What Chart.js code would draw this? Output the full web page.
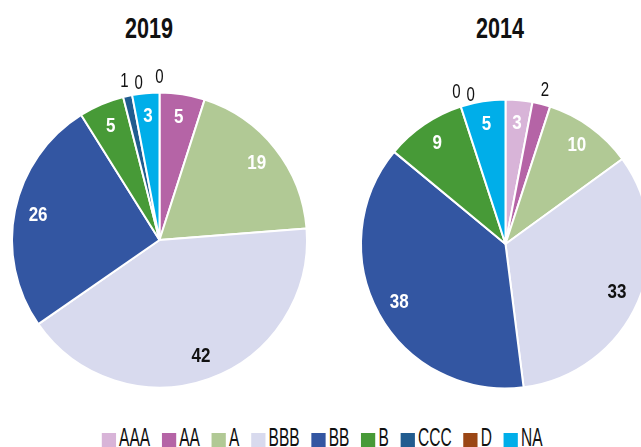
<!DOCTYPE html>
<html>
<head>
<meta charset="utf-8">
<script src="https://cdn.jsdelivr.net/npm/chart.js@4/dist/chart.umd.min.js"></script>
<style>
  html, body { margin: 0; padding: 0; width: 641px; height: 447px; overflow: hidden; background: #fff; }
  body { position: relative; font-family: "Liberation Sans", Arial, sans-serif; }
  .box { position: absolute; }
  .title { position: absolute; top: 12px; font-weight: bold; font-size: 30px; line-height: 32px; color: #111; transform: translateX(-50%) scaleX(0.72); white-space: nowrap; }
  #legend { position: absolute; left: -200px; width: 1041px; top: 425px; height: 24px; display: flex; justify-content: center; align-items: flex-start; font-size: 25px; line-height: 24px; color: #111; transform: scaleX(0.62); transform-origin: 525px 50%; }
  .li { display: flex; align-items: flex-start; margin: 0 9.5px; }
  .sw { width: 23px; height: 14px; margin-right: 5px; margin-top: 8px; }
</style>
</head>
<body>
<div class="title" style="left:149px">2019</div>
<div class="title" style="left:500px">2014</div>
<div class="box" style="left:0;top:0;width:320px;height:410px"><canvas id="c1"></canvas></div>
<div class="box" style="left:330px;top:0;width:360px;height:410px"><canvas id="c2"></canvas></div>
<div id="legend"></div>
<script>
const categories = ["AAA", "AA", "A", "BBB", "BB", "B", "CCC", "D", "NA"];
const values2019 = [0, 5, 19, 42, 26, 5, 1, 0, 3];
const values2014 = [3, 2, 10, 33, 38, 9, 0, 0, 5];
const colors = ["#d8b4d8", "#b564a6", "#b1c995", "#d8daee", "#3356a2", "#479a37", "#215c8f", "#9b4615", "#00aee9"];
const insideTextColors = ["#fff", "#fff", "#fff", "#111", "#fff", "#fff", "#fff", "#fff", "#fff"];

function drawNarrow(ctx, txt, x, y, sx) {
  ctx.save();
  ctx.translate(x, y);
  ctx.scale(sx, 1);
  ctx.fillText(txt, 0, 0);
  ctx.restore();
}

const labelPlugin = {
  id: 'sliceLabels',
  afterDatasetsDraw(chart) {
    const ctx = chart.ctx;
    const meta = chart.getDatasetMeta(0);
    const data = chart.data.datasets[0].data;
    const placed = [];
    ctx.save();
    ctx.textAlign = 'center';
    ctx.textBaseline = 'middle';
    meta.data.forEach((arc, i) => {
      const p = arc.getProps(['x', 'y', 'startAngle', 'endAngle', 'outerRadius'], true);
      const mid = (p.startAngle + p.endAngle) / 2;
      const v = data[i];
      const txt = String(v);
      if (v >= 3) {
        const r = p.outerRadius * 0.84;
        ctx.font = 'bold 20px "Liberation Sans", Arial, sans-serif';
        ctx.fillStyle = insideTextColors[i];
        drawNarrow(ctx, txt, p.x + Math.cos(mid) * r, p.y + Math.sin(mid) * r, 0.85);
      } else {
        const r = p.outerRadius * 1.1;
        ctx.font = '20px "Liberation Sans", Arial, sans-serif';
        const w = ctx.measureText(txt).width * 0.75;
        let x = p.x + Math.cos(mid) * r;
        let y = p.y + Math.sin(mid) * r;
        placed.forEach(q => {
          if (Math.abs(q.x - x) < (q.w + w) / 2 + 2 && Math.abs(q.y - y) < 14) {
            x = q.x + (q.w + w) / 2 + 6;
            y = y + 3;
          }
        });
        placed.push({x, y, w});
        ctx.fillStyle = '#111';
        drawNarrow(ctx, txt, x, y, 0.75);
      }
    });
    ctx.restore();
  }
};

function makePie(id, values, padding) {
  return new Chart(document.getElementById(id), {
    type: 'pie',
    data: {
      labels: categories,
      datasets: [{
        data: values,
        backgroundColor: colors,
        borderColor: '#ffffff',
        borderWidth: 2,
        hoverOffset: 0
      }]
    },
    options: {
      responsive: true,
      maintainAspectRatio: false,
      animation: false,
      layout: { padding: padding },
      plugins: { legend: { display: false }, tooltip: { enabled: false }, title: { display: false } }
    },
    plugins: [labelPlugin]
  });
}

makePie('c1', values2019, { left: 11, right: 12, top: 91, bottom: 21 });
makePie('c2', values2014, { left: 30, right: 39, top: 98, bottom: 20 });

const legend = document.getElementById('legend');
categories.forEach((c, i) => {
  const item = document.createElement('div');
  item.className = 'li';
  const sw = document.createElement('span');
  sw.className = 'sw';
  sw.style.background = colors[i];
  const t = document.createElement('span');
  t.textContent = c;
  item.appendChild(sw);
  item.appendChild(t);
  legend.appendChild(item);
});
</script>
</body>
</html>
